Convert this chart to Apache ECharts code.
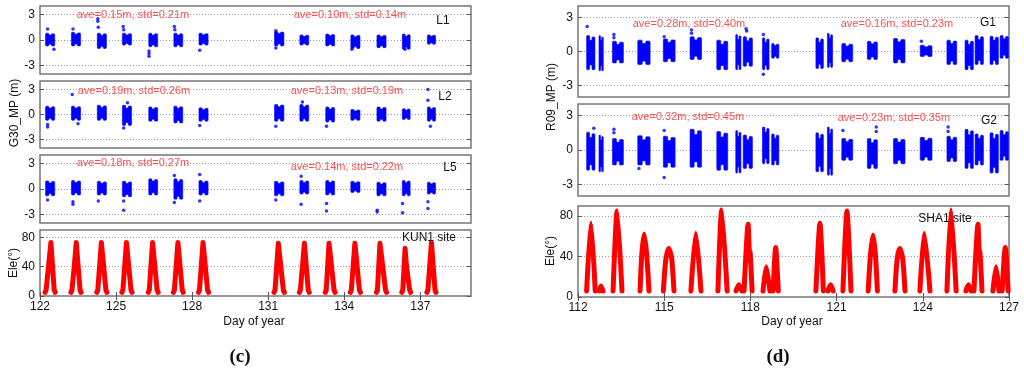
<!DOCTYPE html>
<html><head><meta charset="utf-8">
<script src="https://cdn.jsdelivr.net/npm/echarts@6/dist/echarts.min.js"></script>
<style>html,body{margin:0;padding:0;background:#fff}#c{width:1024px;height:375px}</style>
</head><body><div id="c"></div>
<script>
// ---------- Panel (c): KUN1, G30 ----------
const leftXTicks = [122,125,128,131,134,137];
const rightXTicks = [112,115,118,121,124,127];
const mpTicks = [-3,0,3];
const eleTicks = [0,40,80];

// pass (cluster) start / end days, panel (c)
const cStart = [122.22,123.24,124.26,125.25,126.29,127.28,128.27,131.25,132.25,133.27,134.26,135.29,136.29,137.28];
const cEnd   = [122.58,123.60,124.62,125.61,126.64,127.63,128.63,131.62,132.60,133.62,134.62,135.65,136.60,137.60];

const L1Lo = [-0.7,-0.7,-1.0,-0.6,-0.8,-0.8,-0.6,-0.7,-0.6,-0.7,-1.0,-0.9,-1.1,-0.5];
const L1Hi = [0.8,0.9,0.8,0.8,0.8,0.8,0.8,1.0,0.6,0.7,0.6,0.6,0.7,0.6];
const L1Out = [[122.3,1.3],[122.55,-1.1],[123.3,1.3],[124.28,2.5],[124.28,2.2],[124.3,1.5],[125.28,1.6],[125.3,1.2],[126.3,-1.3],[126.3,-1.6],[126.3,-1.9],[127.3,1.6],[127.32,1.2],[128.3,-1.2],[131.3,1.1],[131.3,-0.95],[134.3,-1.1],[136.4,-1.1]];

const L2Lo = [-0.7,-0.7,-0.7,-1.3,-0.8,-1.0,-0.8,-0.8,-0.8,-0.9,-0.7,-0.8,-0.6,-0.8];
const L2Hi = [1.0,1.0,1.1,1.1,0.9,1.0,0.8,1.2,1.2,0.9,0.6,0.9,0.7,0.9];
const L2Out = [[122.3,-1.2],[122.3,-1.5],[123.27,2.4],[123.5,-1.1],[125.45,1.4],[125.3,-1.6],[128.3,-1.3],[131.3,-1.4],[132.35,1.5],[133.3,-1.4],[137.3,3.0],[137.3,1.7],[137.4,-1.4]];

const L5Lo = [-0.8,-0.7,-0.7,-0.9,-0.7,-1.2,-0.7,-0.8,-0.6,-0.7,-0.4,-0.8,-0.8,-0.6];
const L5Hi = [0.95,1.0,0.9,0.9,1.2,1.2,1.0,0.9,1.0,1.0,0.9,0.8,1.0,0.8];
const L5Out = [[122.3,-1.3],[123.3,-1.5],[123.3,-1.8],[124.3,-1.4],[125.3,-1.4],[125.3,-2.5],[127.3,1.6],[127.3,-1.6],[128.3,1.7],[128.3,-1.4],[131.3,-1.3],[132.3,1.5],[132.3,-1.8],[133.3,-1.7],[133.3,-2.6],[135.3,-2.5],[135.3,-2.7],[136.3,-1.7],[136.3,-2.8],[137.3,-1.5],[137.3,-2.3]];

// elevation passes (day, elevation deg), panel (c)
const kunPasses = [
  [[122.20,5],[122.24,8],[122.43,73],[122.56,8],[122.60,5]],
  [[123.22,5],[123.26,8],[123.35,40],[123.37,42],[123.43,73],[123.58,8],[123.62,5]],
  [[124.24,5],[124.28,8],[124.42,73],[124.60,8],[124.64,5]],
  [[125.23,5],[125.27,8],[125.41,73],[125.59,8],[125.63,5]],
  [[126.27,5],[126.31,8],[126.44,73],[126.62,8],[126.66,5]],
  [[127.26,5],[127.30,8],[127.44,73],[127.61,8],[127.65,5]],
  [[128.25,5],[128.29,8],[128.43,73],[128.61,8],[128.65,5]],
  [[131.23,5],[131.27,8],[131.40,72],[131.60,8],[131.64,5]],
  [[132.23,5],[132.27,8],[132.43,72],[132.58,8],[132.62,5]],
  [[133.25,5],[133.29,8],[133.40,72],[133.60,8],[133.64,5]],
  [[134.24,5],[134.28,8],[134.42,72],[134.60,8],[134.64,5]],
  [[135.27,5],[135.31,8],[135.41,72],[135.63,8],[135.67,5]],
  [[136.27,5],[136.31,8],[136.40,65],[136.45,42],[136.48,40],[136.58,8],[136.62,5]],
  [[137.26,5],[137.30,8],[137.44,73],[137.58,8],[137.62,5]]
];

// ---------- Panel (d): SHA1, R09 ----------
const dStart = [112.30,112.73,113.20,114.08,114.97,115.90,116.83,117.49,117.75,118.42,118.74,120.28,120.68,121.18,122.07,122.98,123.91,124.84,125.47,125.82,126.34,126.69];
const dEnd   = [112.59,112.88,113.58,114.51,115.38,116.30,117.21,117.67,118.07,118.65,118.99,120.54,120.86,121.56,122.42,123.38,124.32,125.18,125.76,126.11,126.63,126.98];

const G1Lo = [-1.6,-1.7,-1.0,-1.15,-0.9,-0.7,-1.6,-1.6,-1.3,-1.6,-0.6,-1.5,-1.4,-0.9,-0.7,-1.0,-0.45,-1.15,-1.6,-1.15,-1.15,-0.6];
const G1Hi = [1.4,1.4,0.9,1.0,1.1,1.3,1.0,1.5,1.3,1.2,0.7,1.2,1.6,0.7,0.9,1.15,0.55,1.0,1.0,1.4,1.35,1.4];
const G1Out = [[112.32,2.2],[113.25,1.5],[113.25,1.2],[115.0,1.3],[115.95,1.9],[115.95,1.6],[117.85,2.0],[117.87,1.8],[118.45,-2.0],[118.45,1.5],[123.95,0.9]];

const G2Lo = [-1.75,-1.9,-1.3,-1.3,-1.5,-1.5,-1.75,-2.0,-1.6,-1.2,-1.3,-1.9,-2.2,-0.9,-1.6,-1.2,-0.9,-1.0,-1.6,-1.3,-2.0,-0.9];
const G2Hi = [1.55,1.3,1.0,1.25,1.2,1.8,1.6,1.7,1.3,2.0,1.4,1.5,2.0,1.0,1.0,1.0,1.1,1.2,1.8,1.4,1.5,1.7];
const G2Out = [[112.55,1.9],[113.25,1.8],[113.25,1.5],[114.12,-1.6],[115.0,1.7],[115.0,-2.4],[121.22,1.7],[122.38,2.0],[122.38,1.6],[124.88,2.0],[124.88,1.6]];

const shaPasses = [
  [[112.30,6],[112.45,73],[112.60,6]],
  [[112.74,6],[112.80,11],[112.87,6]],
  [[113.22,6],[113.36,85],[113.53,6]],
  [[114.16,6],[114.22,42],[114.30,62],[114.39,42],[114.47,6]],
  [[114.97,6],[115.06,38],[115.16,48],[115.26,38],[115.34,6]],
  [[115.93,6],[116.10,63],[116.28,6]],
  [[116.87,6],[117.00,86],[117.19,6]],
  [[117.50,6],[117.60,12],[117.70,6]],
  [[117.78,6],[117.92,72],[117.96,46],[117.99,44],[118.06,6]],
  [[118.44,6],[118.55,30],[118.68,6]],
  [[118.79,6],[118.88,49],[118.97,6]],
  [[120.28,6],[120.42,73],[120.54,6]],
  [[120.70,6],[120.79,12],[120.88,6]],
  [[121.22,6],[121.36,85],[121.50,6]],
  [[122.10,6],[122.18,42],[122.27,61],[122.35,42],[122.42,6]],
  [[123.03,6],[123.11,38],[123.20,48],[123.30,38],[123.38,6]],
  [[123.90,6],[124.05,63],[124.25,6]],
  [[124.84,6],[124.98,86],[125.16,6]],
  [[125.50,6],[125.59,12],[125.68,6]],
  [[125.78,6],[125.92,72],[125.96,46],[125.99,44],[126.06,6]],
  [[126.44,6],[126.55,30],[126.65,6]],
  [[126.76,6],[126.87,49],[126.97,6]]
];

const texts = {
  c: { ylab:'G30_MP (m)', ele:'Ele(°)', xlab:'Day of year', tag:'(c)', site:'KUN1 site',
       stats:[['ave=0.15m, std=0.21m','ave=0.10m, std=0.14m','L1'],
              ['ave=0.19m, std=0.26m','ave=0.13m, std=0.19m','L2'],
              ['ave=0.18m, std=0.27m','ave=0.14m, std=0.22m','L5']] },
  d: { ylab:'R09_MP (m)', ele:'Ele(°)', xlab:'Day of year', tag:'(d)', site:'SHA1 site',
       stats:[['ave=0.28m, std=0.40m','ave=0.16m, std=0.23m','G1'],
              ['ave=0.32m, std=0.45m','ave=0.23m, std=0.35m','G2']] }
};

// ---------- layout ----------
const grids = [
  {left:40, top:6,   width:431, height:68},
  {left:40, top:81,  width:431, height:67},
  {left:40, top:155, width:431, height:68},
  {left:40, top:230, width:431, height:66},
  {left:578, top:6,   width:431, height:91},
  {left:578, top:104, width:431, height:92},
  {left:578, top:206, width:431, height:91}
];
const FONT = 'Liberation Sans, Arial, sans-serif';
const gridOpts = grids.map(g => Object.assign({show:true, borderColor:'#777', borderWidth:1.5, backgroundColor:'#fff'}, g));

const xAxes = [], yAxes = [];
grids.forEach((g,i) => {
  const left = i < 4;
  const isEle = (i === 3 || i === 6);
  const xt = left ? leftXTicks : rightXTicks;
  xAxes.push({
    gridIndex:i, type:'value', min: left?122:112, max: left?139:127, position:'bottom',
    axisLine:{show:false}, splitLine:{show:false},
    axisTick:{show:isEle, inside:true, length:4, lineStyle:{color:'#555'}, customValues:xt},
    axisLabel:{show:isEle, customValues:xt, color:'#111', fontSize:12, fontFamily:FONT, margin:5}
  });
  const yt = isEle ? eleTicks : mpTicks;
  yAxes.push({
    gridIndex:i, type:'value', min: isEle?0:-4, max: isEle?90:4, position:'left',
    axisLine:{show:false},
    axisTick:{show:true, inside:true, length:4, lineStyle:{color:'#555'}, customValues:yt},
    axisLabel:{customValues:yt, color:'#111', fontSize:12, fontFamily:FONT, margin:5},
    splitLine:{show:true, lineStyle:{type:[1,2], color:'#999', width:1}}
  });
});
// mirrored axes (ticks on top / right)
grids.forEach((g,i) => {
  const isEle = (i === 3 || i === 6);
  const yt = isEle ? eleTicks : mpTicks;
  yAxes.push({
    gridIndex:i, type:'value', min: isEle?0:-4, max: isEle?90:4, position:'right',
    axisLine:{show:false}, splitLine:{show:false}, axisLabel:{show:false},
    axisTick:{show:true, inside:true, length:4, lineStyle:{color:'#555'}, customValues:yt}
  });
});
[3,6].forEach(i => {
  const left = i < 4;
  const xt = left ? leftXTicks : rightXTicks;
  xAxes.push({
    gridIndex:i, type:'value', min: left?122:112, max: left?139:127, position:'top',
    axisLine:{show:false}, splitLine:{show:false}, axisLabel:{show:false},
    axisTick:{show:true, inside:true, length:4, lineStyle:{color:'#555'}, customValues:xt}
  });
});

const BLUE = '#0000ff', RED = '#ff0000';
function clusterSeries(idx, starts, ends, lo, hi) {
  const data = starts.map((s,k) => [s, ends[k], lo[k], hi[k]]);
  return {
    type:'custom', xAxisIndex:idx, yAxisIndex:idx, data,
    encode:{x:[0,1], y:[2,3]},
    renderItem:(params, api) => {
      const s = api.value(0), e = api.value(1), lo = api.value(2), hi = api.value(3);
      const a = api.coord([s, hi]);
      const b = api.coord([e, lo]);
      const w = b[0]-a[0], h = b[1]-a[1];
      const col = w*0.36;
      const st = {fill:BLUE, stroke:BLUE, lineWidth:0.6};
      return {type:'group', children:[
        {type:'rect', shape:{x:a[0], y:a[1], width:col, height:h, r:1}, style:st},
        {type:'rect', shape:{x:b[0]-col, y:a[1]+h*0.04, width:col, height:h*0.96, r:1}, style:st},
        {type:'rect', shape:{x:a[0]+col-0.5, y:a[1]+h*0.14, width:w-2*col+1, height:h*0.72}, style:st}
      ]};
    },
    silent:true
  };
}
function outlierSeries(idx, pts) {
  return {type:'scatter', xAxisIndex:idx, yAxisIndex:idx, data:pts, symbolSize:3.5,
          itemStyle:{color:BLUE}, silent:true};
}
function passSeries(idx, passes, smooth) {
  return passes.map(p => ({
    type:'line', xAxisIndex:idx, yAxisIndex:idx, data:p, showSymbol:false, smooth:smooth,
    lineStyle:{color:RED, width:5, cap:'round', join:'round'}, silent:true, animation:false
  }));
}

const series = [
  clusterSeries(0, cStart, cEnd, L1Lo, L1Hi), outlierSeries(0, L1Out),
  clusterSeries(1, cStart, cEnd, L2Lo, L2Hi), outlierSeries(1, L2Out),
  clusterSeries(2, cStart, cEnd, L5Lo, L5Hi), outlierSeries(2, L5Out),
  ...passSeries(3, kunPasses, false),
  clusterSeries(4, dStart, dEnd, G1Lo, G1Hi), outlierSeries(4, G1Out),
  clusterSeries(5, dStart, dEnd, G2Lo, G2Hi), outlierSeries(5, G2Out),
  ...passSeries(6, shaPasses, 0.25)
];

// ---------- text ----------
const statStyle = {fill:'#ff5050', font:'11px ' + FONT};
const blackStyle = {fill:'#111', font:'12px ' + FONT};
function txt(x, y, s, style, extra) {
  return Object.assign({type:'text', x, y, style:Object.assign({text:s, align:'center', verticalAlign:'middle'}, style), z:100}, extra||{});
}
const graphics = [];
const cStatPos = [[133,15,350,15,443,21],[134,91,347,91,445,97],[133,163,347,167,450,168]];
texts.c.stats.forEach((r,k) => {
  const p = cStatPos[k];
  graphics.push(txt(p[0],p[1],r[0],statStyle), txt(p[2],p[3],r[1],statStyle), txt(p[4],p[5],r[2],blackStyle));
});
const dStatPos = [[689,24,897,24,988,23],[688,117,894,118,989,121]];
texts.d.stats.forEach((r,k) => {
  const p = dStatPos[k];
  graphics.push(txt(p[0],p[1],r[0],statStyle), txt(p[2],p[3],r[1],statStyle), txt(p[4],p[5],r[2],blackStyle));
});
graphics.push(txt(429,238,texts.c.site,blackStyle), txt(945,219,texts.d.site,blackStyle));
graphics.push(txt(254,322,texts.c.xlab,blackStyle), txt(792,322,texts.d.xlab,blackStyle));
const tagStyle = {fill:'#111', font:'bold 19px Liberation Serif, DejaVu Serif, serif'};
graphics.push(txt(240,357,texts.c.tag,tagStyle), txt(778,357,texts.d.tag,tagStyle));
graphics.push(txt(15,113,texts.c.ylab,blackStyle,{rotation:Math.PI/2}));
graphics.push(txt(14,263,texts.c.ele,blackStyle,{rotation:Math.PI/2}));
graphics.push(txt(552,97,texts.d.ylab,blackStyle,{rotation:Math.PI/2}));
graphics.push(txt(551,251,texts.d.ele,blackStyle,{rotation:Math.PI/2}));

const chart = echarts.init(document.getElementById('c'), null, {renderer:'canvas'});
chart.setOption({
  animation:false,
  backgroundColor:'#fff',
  grid:gridOpts, xAxis:xAxes, yAxis:yAxes, series, graphic:graphics
});
</script></body></html>
